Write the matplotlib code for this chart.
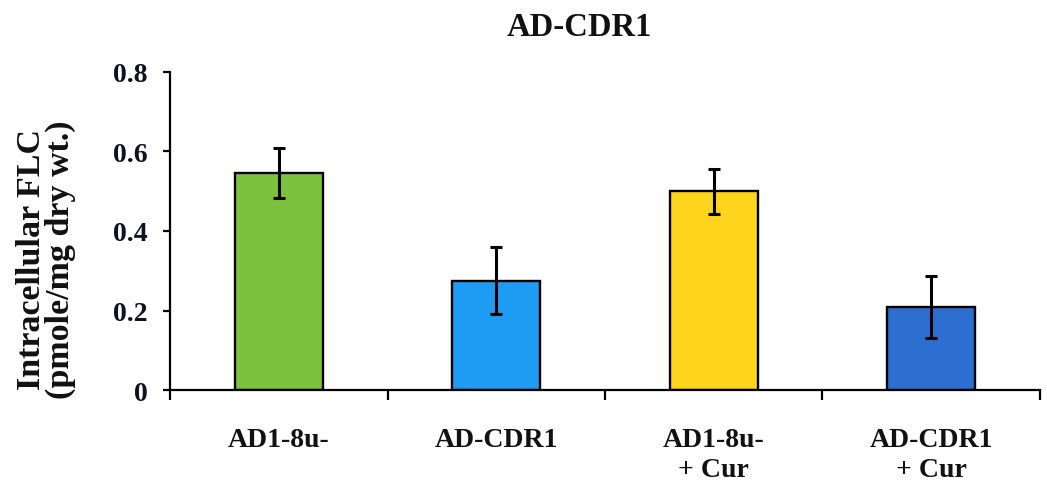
import matplotlib
matplotlib.use("Agg")
import matplotlib.pyplot as plt
import numpy as np

categories = ["AD1-8u-", "AD-CDR1", "AD1-8u-\n+ Cur", "AD-CDR1\n+ Cur"]
values = [0.546, 0.275, 0.500, 0.209]
errors = [0.063, 0.085, 0.056, 0.077]
colors = ["#7DC23C", "#1E9BF2", "#FFD41C", "#2C6FD0"]
yticks = [0, 0.2, 0.4, 0.6, 0.8]
ytick_labels = ["0", "0.2", "0.4", "0.6", "0.8"]

plt.rcParams["font.family"] = ["Liberation Serif", "DejaVu Serif"]
plt.rcParams["font.weight"] = "bold"

fig = plt.figure(figsize=(10.47, 4.85), dpi=100)
ax = fig.add_axes([0.1624, 0.1938, 0.8309, 0.6557])

x = np.arange(len(categories))
ax.bar(x, values, width=0.405, color=colors, edgecolor="black", linewidth=1.7, zorder=2)
ax.errorbar(x, values, yerr=errors, fmt="none", ecolor="black",
            elinewidth=2.2, capsize=4.6, capthick=2.2, zorder=3)

ax.set_xlim(-0.5, 3.5)
ax.set_ylim(0, 0.8)
ax.set_yticks(yticks)
ax.set_yticklabels(ytick_labels, fontsize=20, fontweight="bold", color="#111122")

# category boundaries carry the tick marks; labels sit under the bar centres
ax.set_xticks(np.arange(-0.5, 4.0, 1.0))
ax.set_xticklabels([])
ax.tick_params(axis="x", direction="out", length=7, width=1.6)
ax.tick_params(axis="y", direction="out", length=5, width=1.6, pad=11)
for xi, lab in zip(x, categories):
    ax.text(xi, -0.092, lab, ha="center", va="top", fontsize=20,
            fontweight="bold", color="#111111", linespacing=1.27,
            transform=ax.transData, clip_on=False)

for side in ("top", "right"):
    ax.spines[side].set_visible(False)
for side in ("left", "bottom"):
    ax.spines[side].set_linewidth(1.6)

fig.text(0.044, 1 - 260 / 485, "Intracellular FLC\n(pmole/mg dry wt.)",
         rotation=90, ha="center", va="center", fontsize=24.5,
         fontweight="bold", color="#111111", linespacing=0.92)
fig.text(0.553, 1 - 27.5 / 485, "AD-CDR1", ha="center", va="center",
         fontsize=23.5, fontweight="bold", color="#111111")

fig.savefig("out.png", dpi=100)
